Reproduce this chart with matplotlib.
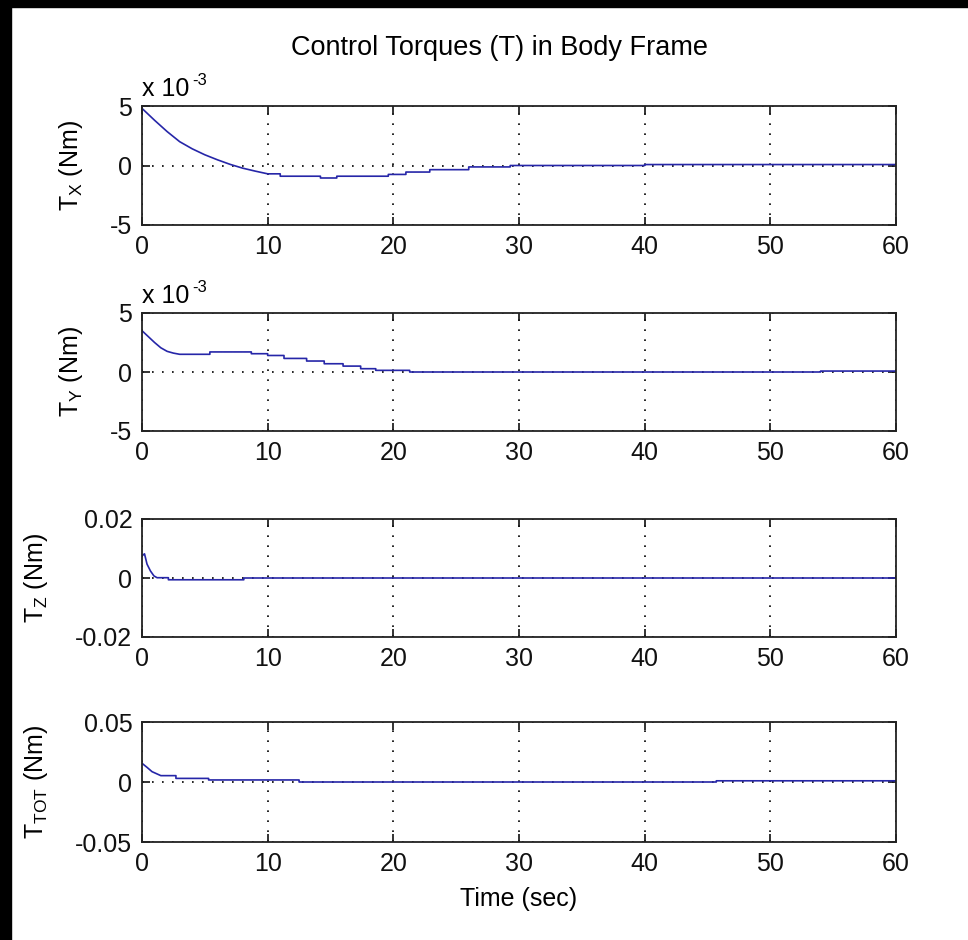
import matplotlib
matplotlib.use("Agg")
import matplotlib.pyplot as plt
from matplotlib.patches import Rectangle

plt.rcParams['font.family'] = ['Liberation Sans', 'DejaVu Sans']
plt.rcParams['mathtext.fontset'] = 'custom'
plt.rcParams['mathtext.rm'] = 'Liberation Sans'
plt.rcParams['mathtext.it'] = 'Liberation Sans'
plt.rcParams['axes.unicode_minus'] = False

# x torque (Nm); repeated times mark the zero-order-hold steps
tx_time = [0, 1, 2, 3, 4, 5, 6, 7, 8, 9, 10, 11, 11, 14.2, 14.2, 15.5, 15.5, 19.6, 19.6,
           21, 21, 22.9, 22.9, 26, 26, 29.3, 29.3, 40, 40, 60]
tx_vals = [4.8e-3, 3.8e-3, 2.85e-3, 2.0e-3, 1.4e-3, 0.9e-3, 0.48e-3, 0.1e-3, -0.22e-3,
           -0.47e-3, -0.7e-3, -0.7e-3, -0.9e-3, -0.9e-3, -1.05e-3, -1.05e-3, -0.9e-3, -0.9e-3,
           -0.75e-3, -0.75e-3, -0.55e-3, -0.55e-3, -0.35e-3, -0.35e-3, -0.12e-3, -0.12e-3,
           0.0, 0.0, 0.08e-3, 0.08e-3]

# y torque (Nm)
ty_time = [0, 0.5, 1, 1.5, 2, 2.5, 3, 5.4, 5.4, 8.7, 8.7, 10, 10, 11.3, 11.3, 13.1, 13.1,
           14.5, 14.5, 16, 16, 17.4, 17.4, 18.6, 18.6, 21.3, 21.3, 54, 54, 60]
ty_vals = [3.5e-3, 3.0e-3, 2.5e-3, 2.05e-3, 1.75e-3, 1.6e-3, 1.5e-3, 1.5e-3, 1.7e-3, 1.7e-3,
           1.55e-3, 1.55e-3, 1.4e-3, 1.4e-3, 1.15e-3, 1.15e-3, 0.93e-3, 0.93e-3, 0.7e-3, 0.7e-3,
           0.5e-3, 0.5e-3, 0.28e-3, 0.28e-3, 0.14e-3, 0.14e-3, 0.0, 0.0, 0.08e-3, 0.08e-3]

# z torque (Nm)
tz_time = [0, 0.2, 0.4, 0.67, 0.95, 1.2, 2.1, 2.1, 8.1, 8.1, 60]
tz_vals = [0.0075, 0.0082, 0.0047, 0.0024, 0.0007, 0.0001, 0.0001, -0.0006, -0.0006, 0.0, 0.0]

# total torque (Nm)
tt_time = [0, 0.4, 0.8, 1.5, 2.7, 2.7, 5.3, 5.3, 12.5, 12.5, 45.7, 45.7, 60]
tt_vals = [0.0156, 0.0122, 0.0086, 0.0053, 0.0053, 0.003, 0.003, 0.0017, 0.0017, 0.0, 0.0,
           0.001, 0.001]

series = [
    (tx_time, tx_vals, r'T$_X$ (Nm)', [-5e-3, 0, 5e-3], ['-5', '0', '5'], True),
    (ty_time, ty_vals, r'T$_Y$ (Nm)', [-5e-3, 0, 5e-3], ['-5', '0', '5'], True),
    (tz_time, tz_vals, r'T$_Z$ (Nm)', [-0.02, 0, 0.02], ['-0.02', '0', '0.02'], False),
    (tt_time, tt_vals, r'T$_{TOT}$ (Nm)', [-0.05, 0, 0.05], ['-0.05', '0', '0.05'], False),
]

fig = plt.figure(figsize=(9.68, 9.40), dpi=100)
W, H = 968, 940
left, right = 142, 896
tops = [106, 313, 519, 722]
bottoms = [225, 431, 637, 842]

line_color = '#2626a8'
fs = 18

for (t, v, ylab, yt, ytl, scaled), top, bot in zip(series, tops, bottoms):
    ax = fig.add_axes([left / W, 1 - bot / H, (right - left) / W, (bot - top) / H])
    ax.plot(t, v, color=line_color, lw=1.2)
    ax.set_xlim(0, 60)
    ax.set_ylim(yt[0], yt[-1])
    ax.set_xticks([0, 10, 20, 30, 40, 50, 60])
    ax.set_yticks(yt)
    ax.set_yticklabels(ytl)
    ax.tick_params(direction='in', length=6, width=1.2, top=True, right=True,
                   labelsize=fs, pad=7, colors='#111111')
    ax.grid(True, color='black', lw=1.2, linestyle=(0, (1, 5)))
    for s in ax.spines.values():
        s.set_linewidth(1.3)
        s.set_color('#222222')
    ax.set_ylabel(ylab, fontsize=fs, labelpad=18)
    if scaled:
        ax.text(0.0, 1.04, 'x 10', transform=ax.transAxes, fontsize=fs,
                ha='left', va='bottom')
        ax.text(0.066, 1.15, '-3', transform=ax.transAxes, fontsize=12,
                ha='left', va='bottom')
    if top == tops[-1]:
        ax.set_xlabel('Time (sec)', fontsize=fs, labelpad=8)

fig.text(500 / W, 1 - 48 / H, 'Control Torques (T) in Body Frame', fontsize=19.5,
         ha='center', va='center')

# dark frame of the photographed screen
fig.patches.append(Rectangle((0, 1 - 7 / H), 1, 7 / H, transform=fig.transFigure,
                             color='black', zorder=10))
fig.patches.append(Rectangle((0, 0), 11 / W, 1, transform=fig.transFigure,
                             color='black', zorder=10))

fig.savefig('out.png', dpi=100, facecolor='white')
